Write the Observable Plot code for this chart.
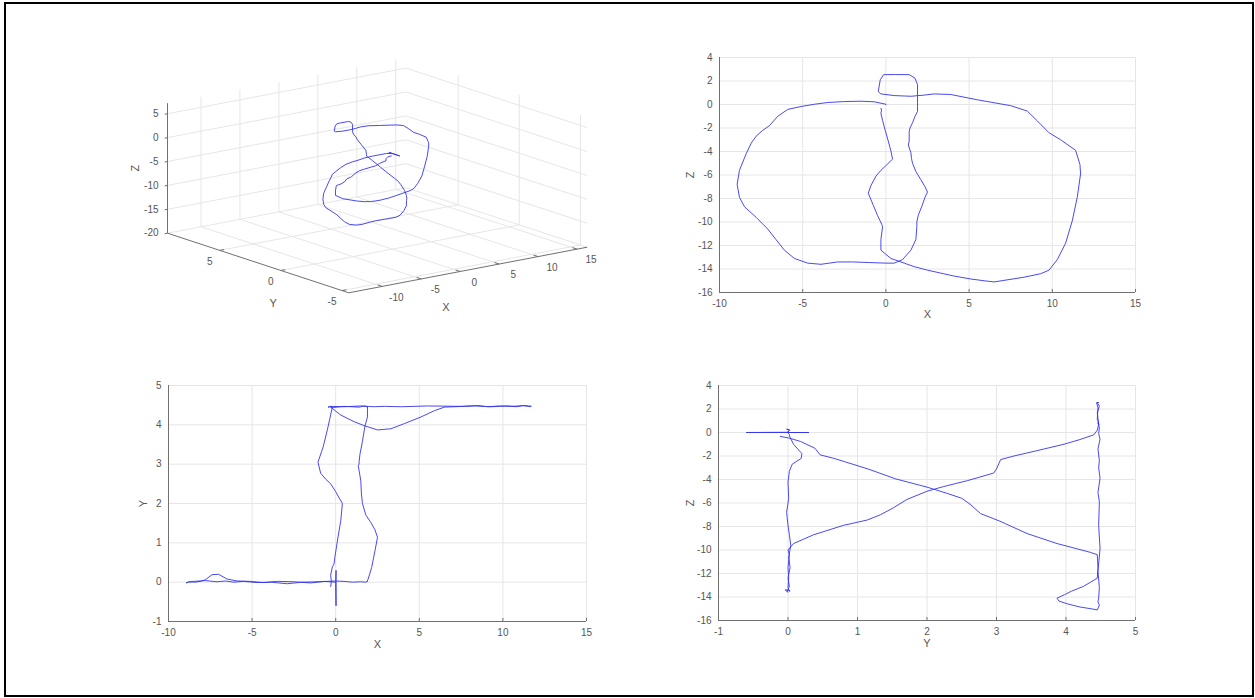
<!DOCTYPE html>
<html>
<head>
<meta charset="utf-8">
<script src="https://cdn.jsdelivr.net/npm/d3@7"></script>
<script src="https://cdn.jsdelivr.net/npm/@observablehq/plot@0.6"></script>
<style>
  html, body { margin: 0; padding: 0; background: #fff; }
  #page { position: relative; width: 1255px; height: 698px; overflow: hidden; background: #fff; }
  #frame { position: absolute; left: 4px; top: 2px; width: 1246px; height: 691px; border: 2px solid #000; }
  .panel { position: absolute; }
</style>
</head>
<body>
<div id="page">
  <div id="frame"></div>
  <div class="panel" id="p3d" style="left:120px; top:40px;"></div>
  <div class="panel" id="pxz" style="left:660px; top:40px;"></div>
  <div class="panel" id="pxy" style="left:110px; top:368px;"></div>
  <div class="panel" id="pyz" style="left:660px; top:368px;"></div>
</div>
<script>
// ---------------- DATA: one 3D trajectory ----------------
const trajX = [
  0, 0.02, 0.02, 0,
  -0.7, -1.5, -2.5, -3.5, -4.3, -5.1, -5.9, -6.5, -7.0, -7.4, -7.8, -8.1, -8.4, -8.8, -8.94, -8.8, -8.5, -7.8, -7.1, -6.6, -6.1, -5.5, -4.7, -3.9, -2.9, -2.0, -1.0, 0.0, 0.5, 1.0, 1.5, 1.8, 1.86,
  1.86, 1.94, 2.15, 2.35, 2.5, 2.35, 2.1, 1.8, 1.6, 1.54, 1.5, 1.35, 1.4, 1.4, 1.45, 1.6, 1.75, 1.9, 1.9, 1.9,
  1.9, 1.9, 1.74, 1.4, 0.5, -0.14, -0.34, -0.46, -0.3, 0.5, 1.5, 2.3, 2.9,
  3.9, 5.5, 7.5, 8.5, 9.1, 9.8, 10.5, 11.4, 11.66, 11.7, 11.5, 11.2, 10.8, 10.3, 9.8, 9.3, 8.3, 6.5, 5.9, 5.1, 4.1, 3.3, 2.5, 1.7, 1.1, 0.3, -0.3,
  -0.3, -0.2, -0.25, -0.35, -0.5, -0.75, -1.06, -0.9, -0.6, -0.3, 0.0, 0.4, 0.3, 0.14, -0.04, -0.1, -0.2, -0.3, -0.26, -0.3
];
const trajY = [
  0, 0.3, -0.6, 0,
  0.02, -0.02, 0.01, 0.02, -0.01, 0.02, 0.03, 0.08, 0.2, 0.19, 0.06, 0.02, 0.0, 0.01, -0.02, 0.0, 0.02, 0.04, 0.01, 0.03, 0.0, 0.02, -0.01, 0.0, -0.04, 0.0, 0.01, 0.03, 0.02, 0.0, 0.01, 0.0, 0.02,
  0.0, 0.08, 0.37, 0.8, 1.14, 1.33, 1.52, 1.71, 2.0, 2.24, 2.58, 2.96, 3.0, 3.06, 3.25, 3.58, 3.97, 4.2, 4.4, 4.45,
  4.47, 4.45, 4.48, 4.45, 4.47, 4.44, 4.46, 4.45, 4.47, 4.46, 4.48, 4.46, 4.47,
  4.46, 4.48, 4.47, 4.49, 4.46, 4.48, 4.47, 4.49, 4.46, 4.48, 4.47, 4.49, 4.46, 4.48, 4.47, 4.46, 4.48, 4.45, 4.36, 4.2, 4.03, 3.9, 3.87, 3.98, 4.08, 4.25, 4.45,
  4.46, 4.45, 4.35, 4.16, 3.87, 3.44, 3.05, 2.77, 2.62, 2.5, 2.3, 2.0, 1.55, 1.15, 0.66, 0.46, 0.39, 0.18, 0.01, -0.11
];
const trajZ = [
  0, 0, 0, 0.02,
  0.23, 0.28, 0.25, 0.17, 0.02, -0.17, -0.42, -1.0, -1.8, -2.2, -2.7, -3.3, -4.2, -5.6, -6.8, -7.9, -8.7, -9.6, -10.6, -11.5, -12.4, -13.1, -13.5, -13.6, -13.4, -13.4, -13.45, -13.5, -13.5, -13.2, -12.4, -11.5, -10.4,
  -10.0, -9.45, -8.7, -7.9, -7.45, -7.0, -6.4, -5.7, -5.0, -4.6, -4.1, -3.45, -3.1, -2.3, -2.0, -1.55, -1.0, -0.6, -0.2, 0.2,
  0.7, 1.7, 2.25, 2.54, 2.55, 2.54, 2.1, 1.1, 0.9, 0.76, 0.7, 0.8, 0.9,
  0.85, 0.4, -0.1, -0.56, -1.4, -2.4, -3.0, -3.9, -5.1, -5.9, -7.9, -9.9, -11.8, -13.2, -14.1, -14.4, -14.7, -15.1, -15.0, -14.85, -14.6, -14.35, -14.1, -13.8, -13.5, -13.1, -12.4,
  -11.5, -10.4, -10.2, -9.9, -9.45, -8.6, -7.55, -6.9, -6.1, -5.6, -5.2, -4.65, -3.95, -3.1, -2.2, -1.9, -1.35, -0.76, -0.47, -0.33
];

// tick values
const ticksX = [-10, -5, 0, 5, 10, 15];
const ticksY3d = [-5, 0, 5];
const ticksZ3d = [-20, -15, -10, -5, 0, 5];
const ticksZ = [-16, -14, -12, -10, -8, -6, -4, -2, 0, 2, 4];
const ticksY = [-1, 0, 1, 2, 3, 4, 5];

// axis limits
const limX = [-10, 15], limZ = [-16, 4], limY = [-1, 5];
const lim3X = [-14.3, 16.3], lim3Y = [-5.55, 9.27], lim3Z = [-20, 7.2];

// ---------------- STYLE ----------------
const LINE = "#3434ee";
const GRID = "#e6e6e6";
const AXIS = "#707070";
const TEXT = "#555555";
const FONT = "'Liberation Sans', Arial, Helvetica, sans-serif";
const fmt = d => `${d}`;

const traj = trajX.map((x, i) => ({x, y: trajY[i], z: trajZ[i]}));

// ---------------- 2D panels ----------------
function panel2D(o) {
  const yr = o.ydom[1] - o.ydom[0];
  return Plot.plot({
    width: o.width, height: o.height,
    marginLeft: o.ml, marginRight: o.mr, marginTop: o.mt, marginBottom: o.mb,
    x: {domain: o.xdom},
    y: {domain: o.ydom},
    style: {fontFamily: FONT, fontSize: "10px", color: TEXT, background: "transparent", overflow: "visible"},
    marks: [
      Plot.gridX(o.xticks, {stroke: GRID, strokeOpacity: 1}),
      Plot.gridY(o.yticks, {stroke: GRID, strokeOpacity: 1}),
      Plot.ruleX([o.xdom[0]], {stroke: AXIS, strokeWidth: 1}),
      Plot.ruleY([o.ydom[0]], {stroke: AXIS, strokeWidth: 1}),
      Plot.ruleX(o.xticks, {y1: o.ydom[0], y2: o.ydom[0] + yr * 0.013, stroke: AXIS}),
      Plot.axisX(o.xticks, {tickSize: 0, tickPadding: 7, tickFormat: fmt, label: null}),
      Plot.axisY(o.yticks, {tickSize: 0, tickPadding: 7, tickFormat: fmt, label: null}),
      Plot.line(traj, {x: o.xkey, y: o.ykey, stroke: LINE, strokeWidth: 0.9, curve: "linear"}),
      Plot.text([o.xlabel], {text: d => d, frameAnchor: "bottom", dy: o.xlabelDy, fontSize: 11, fill: TEXT, textAnchor: "middle"}),
      Plot.text([o.ylabel], {text: d => d, frameAnchor: "left", dx: -o.ylabelDx, rotate: -90, fontSize: 11, fill: TEXT, textAnchor: "middle"})
    ]
  });
}

document.getElementById("pxz").appendChild(panel2D({
  width: 490, height: 290, ml: 59, mr: 15, mt: 17, mb: 38,
  xdom: limX, ydom: limZ, xticks: ticksX, yticks: ticksZ,
  xkey: "x", ykey: "z", xlabel: "X", ylabel: "Z", xlabelDy: 25, ylabelDx: 29
}));
document.getElementById("pxy").appendChild(panel2D({
  width: 490, height: 292, ml: 58, mr: 14, mt: 17, mb: 39,
  xdom: limX, ydom: limY, xticks: ticksX, yticks: ticksY,
  xkey: "x", ykey: "y", xlabel: "X", ylabel: "Y", xlabelDy: 26, ylabelDx: 25
}));
document.getElementById("pyz").appendChild(panel2D({
  width: 490, height: 292, ml: 58, mr: 15, mt: 17, mb: 40,
  xdom: limY, ydom: limZ, xticks: ticksY, yticks: ticksZ,
  xkey: "y", ykey: "z", xlabel: "Y", ylabel: "Z", xlabelDy: 26, ylabelDx: 28
}));

// ---------------- 3D panel (oblique orthographic projection of the axes box) ----------------
const W3 = 480, H3 = 280;
const P0 = [228.3, 252.3];          // screen position of corner (xmin, ymin, zmin)
const EX = [238.4, -45.6];          // screen vector of the full x range
const EY = [-181.3, -59.6];         // screen vector of the full y range
const EZ = [0, -130];               // screen vector of the full z range
function proj(x, y, z) {
  const nx = (x - lim3X[0]) / (lim3X[1] - lim3X[0]);
  const ny = (y - lim3Y[0]) / (lim3Y[1] - lim3Y[0]);
  const nz = (z - lim3Z[0]) / (lim3Z[1] - lim3Z[0]);
  return [P0[0] + nx * EX[0] + ny * EY[0] + nz * EZ[0], P0[1] + nx * EX[1] + ny * EY[1] + nz * EZ[1]];
}
const [x0, x1] = lim3X, [y0, y1] = lim3Y, [z0, z1] = lim3Z;
const gridSegs = [];
for (const t of ticksX) {
  gridSegs.push({a: [t, y0, z0], b: [t, y1, z0]});
  gridSegs.push({a: [t, y1, z0], b: [t, y1, z1]});
}
for (const t of ticksY3d) {
  gridSegs.push({a: [x0, t, z0], b: [x1, t, z0]});
  gridSegs.push({a: [x1, t, z0], b: [x1, t, z1]});
}
for (const t of ticksZ3d) {
  gridSegs.push({a: [x0, y1, t], b: [x1, y1, t]});
  gridSegs.push({a: [x1, y1, t], b: [x1, y0, t]});
}
const axisSegs = [
  {a: [x0, y1, z0], b: [x0, y1, z1]},
  {a: [x0, y1, z0], b: [x0, y0, z0]},
  {a: [x0, y0, z0], b: [x1, y0, z0]}
];
const tickSegs = [
  ...ticksX.map(t => ({a: [t, y0, z0], b: [t, y0 + (y1 - y0) * 0.025, z0]})),
  ...ticksY3d.map(t => ({a: [x0, t, z0], b: [x0 + (x1 - x0) * 0.018, t, z0]})),
  ...ticksZ3d.map(t => ({a: [x0, y1, t], b: [x0 - (x1 - x0) * 0.012, y1, t]}))
];
const segOpts = (stroke, w) => ({
  x1: d => proj(...d.a)[0], y1: d => proj(...d.a)[1],
  x2: d => proj(...d.b)[0], y2: d => proj(...d.b)[1],
  stroke, strokeWidth: w
});

const chart3d = Plot.plot({
  width: W3, height: H3, margin: 0,
  x: {domain: [0, W3], range: [0, W3], axis: null},
  y: {domain: [0, H3], range: [0, H3], axis: null},
  style: {fontFamily: FONT, fontSize: "10px", color: TEXT, background: "transparent", overflow: "visible"},
  marks: [
    Plot.link(gridSegs, segOpts(GRID, 1)),
    Plot.link(axisSegs, segOpts(AXIS, 1)),
    Plot.link(tickSegs, segOpts(AXIS, 1)),
    Plot.line(traj, {x: d => proj(d.x, d.y, d.z)[0], y: d => proj(d.x, d.y, d.z)[1], stroke: LINE, strokeWidth: 0.9}),
    Plot.text(ticksX, {x: d => proj(d, y0, z0)[0], y: d => proj(d, y0, z0)[1], text: fmt, dx: 14, dy: 11, fill: TEXT, textAnchor: "middle"}),
    Plot.text(ticksY3d, {x: d => proj(x0, d, z0)[0], y: d => proj(x0, d, z0)[1], text: fmt, dx: -10, dy: 11, fill: TEXT, textAnchor: "middle"}),
    Plot.text(ticksZ3d, {x: d => proj(x0, y1, d)[0], y: d => proj(x0, y1, d)[1], text: fmt, dx: -9, fill: TEXT, textAnchor: "end"}),
    Plot.text(["X"], {x: () => proj((x0 + x1) / 2, y0, z0)[0], y: () => proj((x0 + x1) / 2, y0, z0)[1], text: d => d, dx: -22, dy: 37, fontSize: 11, fill: TEXT}),
    Plot.text(["Y"], {x: () => proj(x0, (y0 + y1) / 2, z0)[0], y: () => proj(x0, (y0 + y1) / 2, z0)[1], text: d => d, dx: 15, dy: 40, fontSize: 11, fill: TEXT}),
    Plot.text(["Z"], {x: () => proj(x0, y1, (z0 + z1) / 2)[0], y: () => proj(x0, y1, (z0 + z1) / 2)[1], text: d => d, dx: -32, rotate: -90, fontSize: 11, fill: TEXT})
  ]
});
document.getElementById("p3d").appendChild(chart3d);
</script>
</body>
</html>
